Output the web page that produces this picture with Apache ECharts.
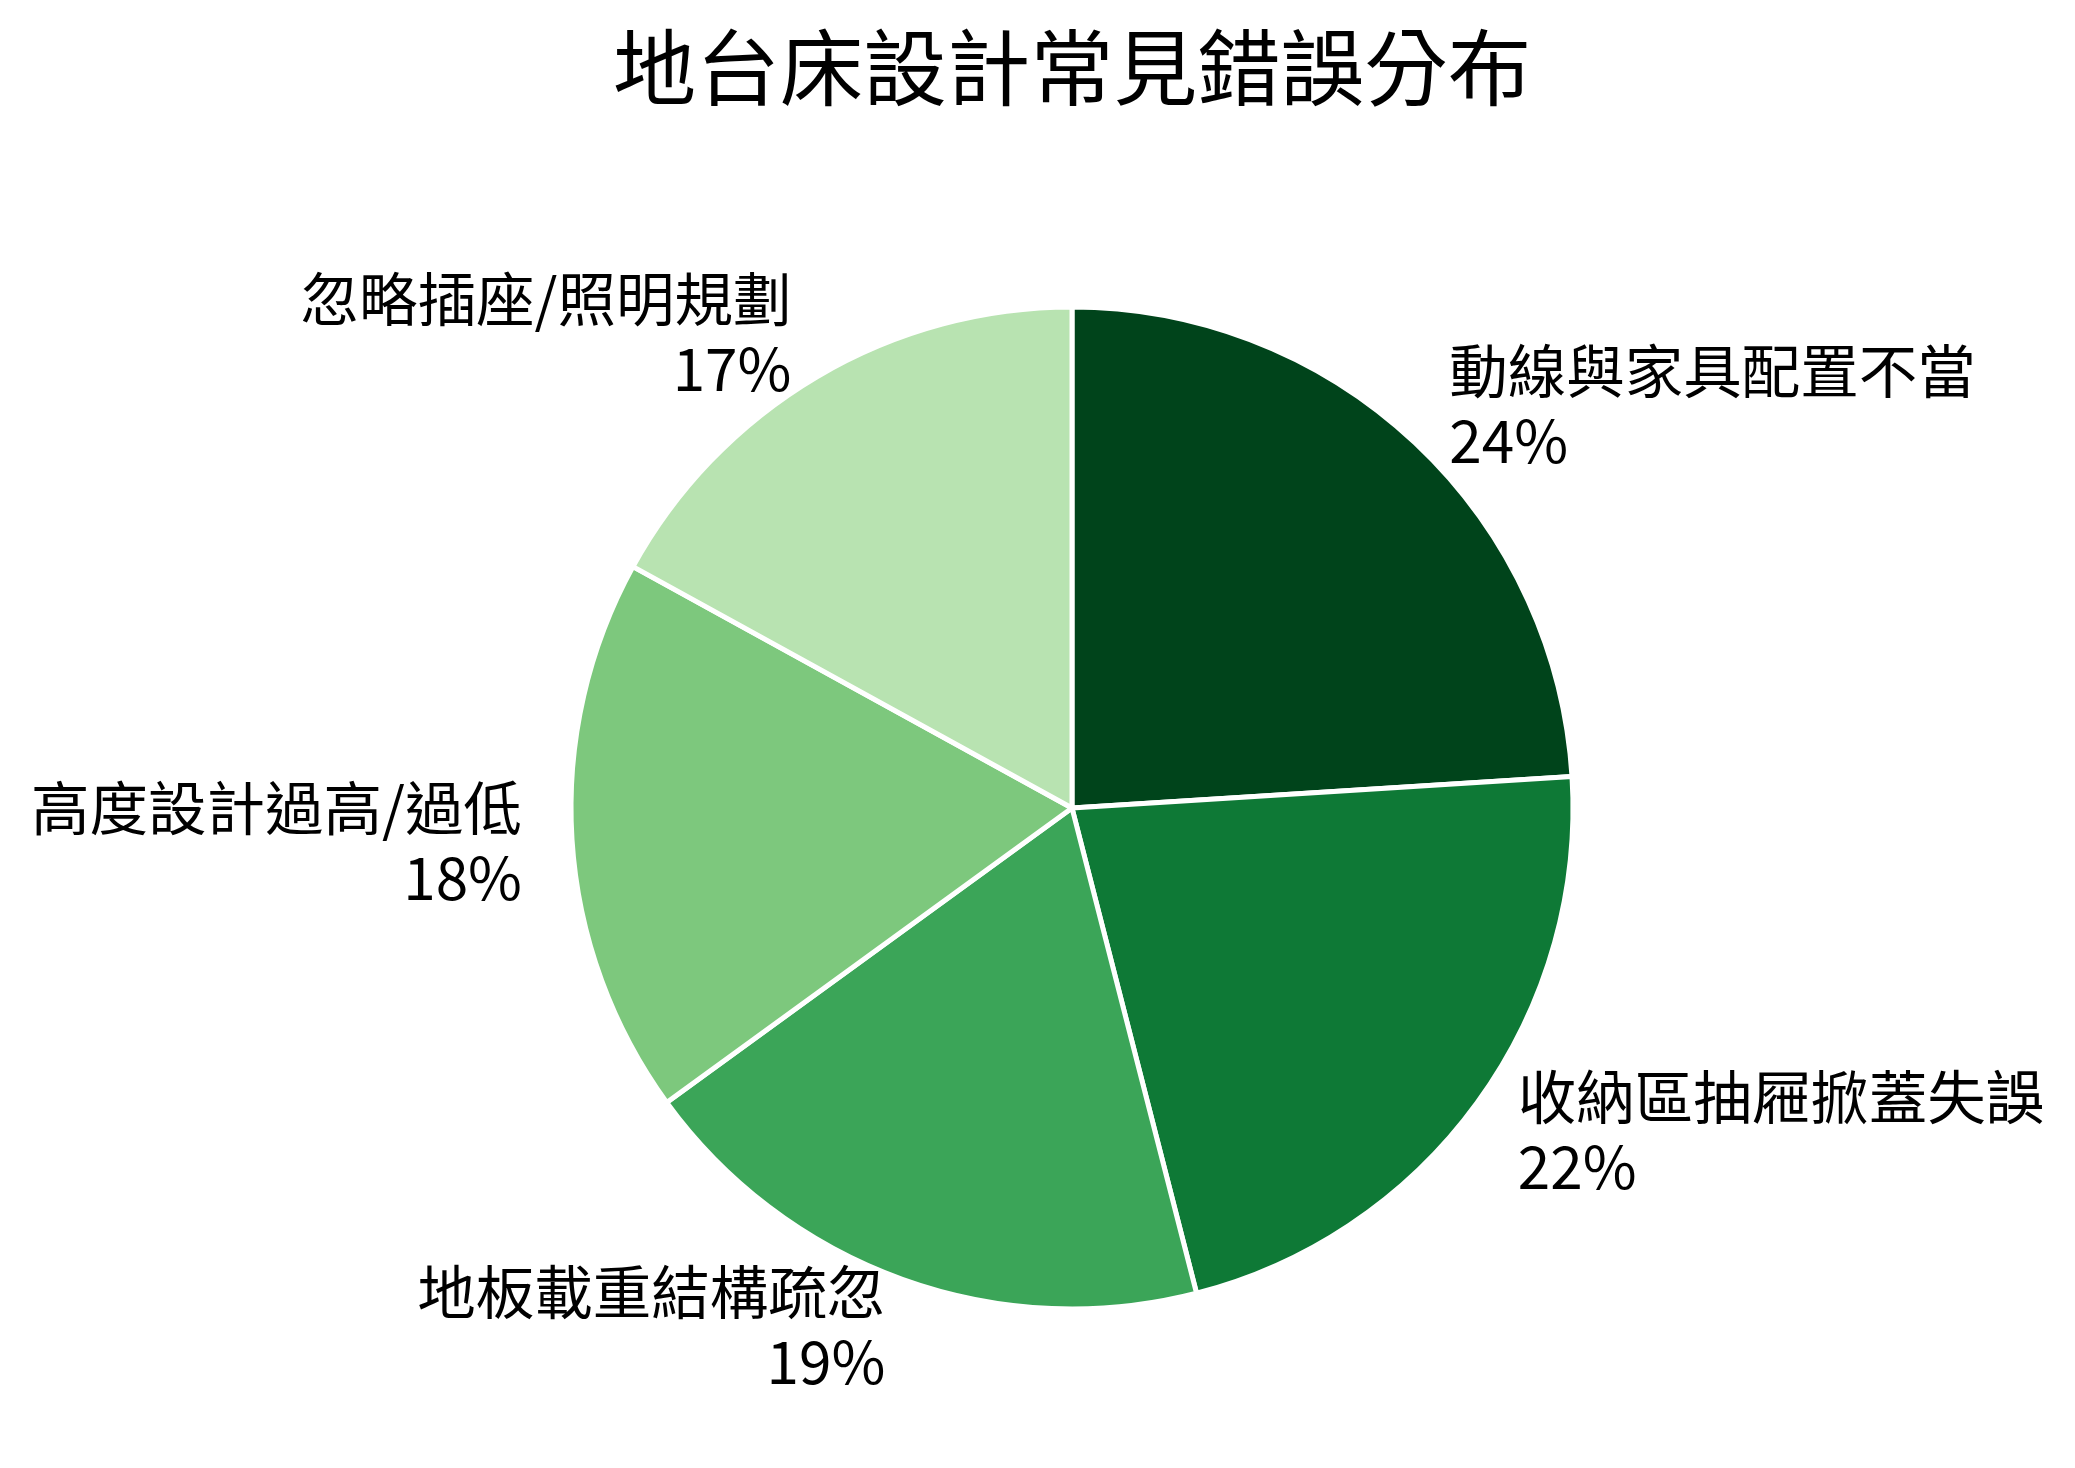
<!DOCTYPE html>
<html>
<head>
<meta charset="utf-8">
<script src="https://cdn.jsdelivr.net/npm/echarts@6/dist/echarts.min.js"></script>
<style>
html,body{margin:0;padding:0;background:#fff;}
#chart{width:2075px;height:1468px;}
</style>
</head>
<body>
<div id="chart"></div>
<script>
const titleText = '地台床設計常見錯誤分布';
const categories = ['動線與家具配置不當', '收納區抽屜掀蓋失誤', '地板載重結構疏忽', '高度設計過高/過低', '忽略插座/照明規劃'];
const values = [24, 22, 19, 18, 17];
const colors = ['#00441b', '#0e7936', '#3ba558', '#7dc87d', '#b8e3b1'];

const FONT = '"Noto Sans CJK TC", "Noto Sans CJK SC", "Noto Sans", sans-serif';
const R = 501;

const chart = echarts.init(document.getElementById('chart'), null, {renderer: 'canvas'});
chart.setOption({
  backgroundColor: '#ffffff',
  animation: false,
  title: {
    text: titleText,
    left: 1072,
    top: 25,
    padding: 0,
    textAlign: 'center',
    textVerticalAlign: 'top',
    textStyle: {
      fontFamily: FONT,
      fontSize: 83.5,
      fontWeight: 'normal',
      color: '#000',
      lineHeight: 84
    }
  },
  series: [{
    type: 'pie',
    center: [1072, 808],
    radius: R,
    startAngle: 90,
    clockwise: true,
    avoidLabelOverlap: false,
    emphasis: {disabled: true},
    itemStyle: {borderColor: '#ffffff', borderWidth: 5},
    label: {
      show: true,
      position: 'outside',
      distanceToLabelLine: 0,
      fontFamily: FONT,
      fontSize: 58.5,
      lineHeight: 70,
      color: '#000',
      formatter: function (p) { return p.name + '\n' + Math.round(p.percent) + '%'; }
    },
    labelLine: {show: false, length: R * 0.1, length2: 0},
    data: categories.map((c, i) => ({name: c, value: values[i], itemStyle: {color: colors[i]}}))
  }]
});
</script>
</body>
</html>
